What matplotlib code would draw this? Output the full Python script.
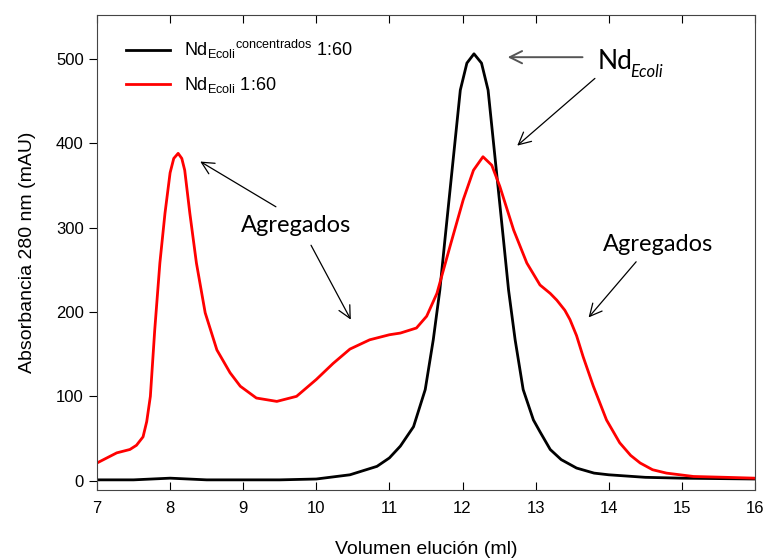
import matplotlib
matplotlib.use('Agg')
import matplotlib.pyplot as plt

# red trace: Nd_Ecoli 1:60
red_x = [7.0, 7.27, 7.45, 7.54, 7.63, 7.68, 7.73, 7.79, 7.86, 7.93, 8.0, 8.05, 8.11, 8.16,
         8.20, 8.27, 8.36, 8.48, 8.64, 8.82, 8.96, 9.18, 9.46, 9.73, 10.0, 10.23, 10.46,
         10.73, 11.0, 11.15, 11.37, 11.51, 11.65, 11.83, 12.01, 12.15, 12.28, 12.40, 12.51,
         12.70, 12.88, 13.06, 13.20, 13.29, 13.40, 13.47, 13.56, 13.65, 13.79, 13.97, 14.15,
         14.30, 14.43, 14.60, 14.79, 15.16, 15.6, 16.0]
red_y = [21, 33, 37, 42, 52, 70, 100, 179, 258, 317, 365, 382, 388, 382,
         368, 317, 258, 199, 155, 128, 112, 98, 94, 100, 120, 139, 156,
         167, 173, 175, 181, 195, 222, 278, 333, 368, 384, 374, 349,
         297, 258, 232, 222, 214, 202, 191, 172, 147, 112, 72, 45,
         30, 21, 13, 9, 5, 4, 3]

# black trace: Nd_Ecoli concentrados 1:60
blk_x = [7.0, 7.5, 8.0, 8.5, 9.0, 9.5, 10.0, 10.46, 10.83, 11.0, 11.15, 11.33, 11.49, 11.60,
         11.69, 11.76, 11.83, 11.90, 11.97, 12.06, 12.157, 12.26, 12.35, 12.42, 12.49, 12.56,
         12.63, 12.72, 12.83, 12.97, 13.06, 13.2, 13.35, 13.56, 13.8, 14.0, 14.5, 15.0, 16.0]
blk_y = [1, 1, 3, 1, 1, 1, 2, 7, 17, 27, 41, 64, 108, 167,
         226, 286, 345, 404, 463, 495, 506, 495, 463, 404, 345, 286,
         226, 167, 108, 72, 58, 37, 25, 15, 9, 7, 4, 3, 2]

plt.rcParams['font.family'] = ['Liberation Sans', 'DejaVu Sans']
plt.rcParams['mathtext.fontset'] = 'custom'
plt.rcParams['mathtext.rm'] = 'Liberation Sans'
plt.rcParams['mathtext.it'] = 'Liberation Sans:italic'
plt.rcParams['mathtext.default'] = 'rm'

fig = plt.figure(figsize=(7.65, 5.58), dpi=100)
ax = fig.add_axes([0.1268, 0.1219, 0.86, 0.8512])

ax.plot(blk_x, blk_y, color='black', lw=2.0, label=r'Nd$_{Ecoli}$$^{concentrados}$ 1:60')
ax.plot(red_x, red_y, color='#ff0000', lw=2.0, label=r'Nd$_{Ecoli}$ 1:60')

ax.set_xlim(7, 16)
ax.set_ylim(-11, 552)
ax.set_xticks(range(7, 17))
ax.set_yticks([0, 100, 200, 300, 400, 500])
ax.tick_params(axis='x', direction='in', top=True, length=6, labelsize=12, pad=8)
ax.tick_params(axis='y', direction='out', length=6, labelsize=12)
for s in ax.spines.values():
    s.set_color('#444444')

ax.set_xlabel('Volumen elución (ml)', fontsize=14, labelpad=18)
ax.set_ylabel('Absorbancia 280 nm (mAU)', fontsize=14, labelpad=14)

ax.legend(loc='upper left', frameon=False, fontsize=13, handlelength=2.4,
          bbox_to_anchor=(0.02, 0.985), labelspacing=0.75, handletextpad=0.8)

# annotations
afont = dict(family=['Lato', 'DejaVu Sans'], fontsize=17)
aprops = dict(arrowstyle='->', color='black', lw=0.9, mutation_scale=22)
ax.text(13.85, 497, 'Nd', ha='left', va='center', family=['Lato', 'DejaVu Sans'], fontsize=19)
ax.text(14.3, 485, 'Ecoli', ha='left', va='center', style='italic',
        family=['Lato', 'DejaVu Sans'], fontsize=12)
ax.annotate('', xy=(12.58, 502), xytext=(13.68, 502),
            arrowprops=dict(aprops, color='#555555', lw=1.4))
ax.annotate('', xy=(12.72, 395), xytext=(13.84, 479), arrowprops=aprops)

ax.text(9.72, 302, 'Agregados', ha='center', va='center', **afont)
ax.annotate('', xy=(8.38, 380), xytext=(9.48, 323), arrowprops=aprops)
ax.annotate('', xy=(10.49, 188), xytext=(9.91, 282), arrowprops=aprops)

ax.text(14.67, 280, 'Agregados', ha='center', va='center', **afont)
ax.annotate('', xy=(13.70, 191), xytext=(14.40, 262), arrowprops=aprops)

fig.savefig('out.png', dpi=100)
